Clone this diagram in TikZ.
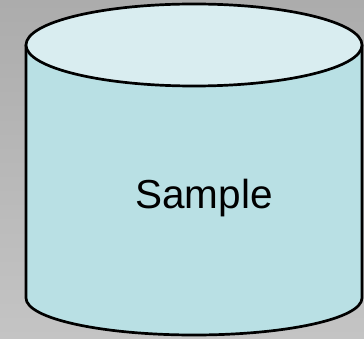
\documentclass[tikz,border=0pt]{standalone}
\usepackage{fontspec}
\setmainfont{Liberation Sans}
\definecolor{bgtop}{RGB}{172,172,172}
\definecolor{bgbot}{RGB}{196,196,196}
\definecolor{body}{RGB}{185,224,228}
\definecolor{lid}{RGB}{217,237,240}
\tikzset{outline/.style={draw=black,line width=2.7pt,line join=round}}
\begin{document}
\begin{tikzpicture}[x=1pt,y=-1pt]
\useasboundingbox (0,0) rectangle (364,339);
\shade[top color=bgtop,bottom color=bgbot] (0,0) rectangle (364,339);
\path[outline,fill=body] (26,45) -- (26,298) arc[start angle=180,end angle=360,x radius=168,y radius=-37] -- (362,45) -- cycle;
\path[outline,fill=lid] (194,45) ellipse[x radius=168,y radius=41];
\node[font=\fontsize{40.5}{48}\selectfont,anchor=base] (label) at (204,208) {Sample};
\end{tikzpicture}
\end{document}
